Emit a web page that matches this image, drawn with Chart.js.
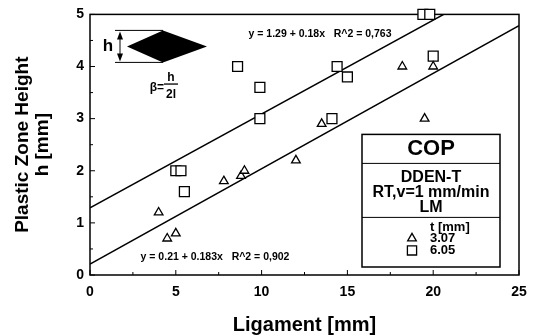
<!DOCTYPE html>
<html>
<head>
  <title>Plastic Zone Height vs Ligament</title>
  <script src="https://cdn.jsdelivr.net/npm/chart.js"></script>
  <style>
    body { margin: 0; background: white; }
  </style>
</head>
<body>
  <canvas id="plot" width="536" height="336"></canvas>

  <script>
    // t = 3.07 mm (triangles)
    const thinX = [4.0, 4.5, 5.0, 7.8, 8.8, 9.0, 12.0, 13.5, 18.2, 19.5, 20.0];
    const thinY = [1.2, 0.7, 0.8, 1.8, 1.9, 2.0, 2.2, 2.9, 4.0, 3.0, 4.0];
    // t = 6.05 mm (squares)
    const thickX = [5.0, 5.3, 5.5, 8.6, 9.9, 9.9, 14.1, 14.4, 15.0, 19.4, 19.8, 20.0];
    const thickY = [2.0, 2.0, 1.6, 4.0, 3.6, 3.0, 3.0, 4.0, 3.8, 5.0, 5.0, 4.2];
    // fitted lines, end points
    const fitX = [0, 25];
    const thickFitY = [1.29, 5.79];
    const thinFitY = [0.21, 4.785];
    const xTicks = [0, 5, 10, 15, 20, 25];
    const yTicks = [0, 1, 2, 3, 4, 5];

    const FONT = '"Liberation Sans", Arial, Helvetica, sans-serif';
    const pts = (xs, ys) => xs.map((x, i) => ({ x: x, y: ys[i] }));
    const mids = t => t.slice(1).map((v, i) => (v + t[i]) / 2);

    // frame, inward ticks and all the text drawn on the plot
    const decor = {
      id: 'decor',
      beforeDatasetsDraw(chart) {
        const ctx = chart.ctx, a = chart.chartArea;
        const xs = chart.scales.x, ys = chart.scales.y;
        ctx.save();
        ctx.strokeStyle = '#000';
        ctx.lineWidth = 1.5;
        ctx.strokeRect(a.left, a.top, a.right - a.left, a.bottom - a.top);
        ctx.lineWidth = 1;
        ctx.beginPath();
        xTicks.forEach(v => { const p = xs.getPixelForValue(v); ctx.moveTo(p, a.bottom); ctx.lineTo(p, a.bottom - 5); });
        mids(xTicks).forEach(v => { const p = xs.getPixelForValue(v); ctx.moveTo(p, a.bottom); ctx.lineTo(p, a.bottom - 3); });
        yTicks.forEach(v => { const p = ys.getPixelForValue(v); ctx.moveTo(a.left, p); ctx.lineTo(a.left + 5, p); });
        mids(yTicks).forEach(v => { const p = ys.getPixelForValue(v); ctx.moveTo(a.left, p); ctx.lineTo(a.left + 3, p); });
        ctx.stroke();
        ctx.restore();
      },
      afterDraw(chart) {
        const ctx = chart.ctx, a = chart.chartArea;
        const L = a.left, T = a.top, R = a.right, B = a.bottom;
        ctx.save();
        ctx.fillStyle = '#000';
        ctx.strokeStyle = '#000';
        ctx.textBaseline = 'middle';

        // equations
        ctx.textAlign = 'center';
        ctx.font = 'bold 10.5px ' + FONT;
        ctx.fillText('y = 1.29 + 0.18x   R^2 = 0,763', L + 230, T + 20);
        ctx.fillText('y = 0.21 + 0.183x   R^2 = 0,902', L + 125, B - 18);

        // inset sketch of the plastic zone
        ctx.beginPath();
        ctx.moveTo(L + 37, T + 32);
        ctx.lineTo(L + 73, T + 16);
        ctx.lineTo(L + 117, T + 32);
        ctx.lineTo(L + 73, T + 48);
        ctx.closePath();
        ctx.fill();
        ctx.lineWidth = 1;
        ctx.beginPath();
        ctx.moveTo(L + 25, T + 16); ctx.lineTo(L + 73, T + 16);
        ctx.moveTo(L + 25, T + 48); ctx.lineTo(L + 73, T + 48);
        ctx.moveTo(L + 30, T + 20); ctx.lineTo(L + 30, T + 44);
        ctx.stroke();
        ctx.beginPath();
        ctx.moveTo(L + 30, T + 17); ctx.lineTo(L + 27, T + 25); ctx.lineTo(L + 33, T + 25); ctx.closePath();
        ctx.moveTo(L + 30, T + 47); ctx.lineTo(L + 27, T + 39); ctx.lineTo(L + 33, T + 39); ctx.closePath();
        ctx.fill();
        ctx.font = 'bold 17px ' + FONT;
        ctx.fillText('h', L + 18, T + 32);
        ctx.font = 'bold 12px ' + FONT;
        ctx.textAlign = 'right';
        ctx.fillText('\u03b2=', L + 74, T + 73);
        ctx.textAlign = 'center';
        ctx.fillText('h', L + 81, T + 63);
        ctx.fillText('2l', L + 81, T + 80);
        ctx.fillRect(L + 74, T + 69, 14, 1.3);

        // legend box
        const bl = R - 157, br = R - 19, bt = T + 120, bb = B - 8, bc = (bl + br) / 2;
        ctx.fillStyle = '#fff';
        ctx.fillRect(bl, bt, br - bl, bb - bt);
        ctx.fillStyle = '#000';
        ctx.lineWidth = 1.5;
        ctx.strokeRect(bl, bt, br - bl, bb - bt);
        ctx.lineWidth = 1;
        ctx.beginPath();
        ctx.moveTo(bl, bt + 29); ctx.lineTo(br, bt + 29);
        ctx.moveTo(bl, bt + 83); ctx.lineTo(br, bt + 83);
        ctx.stroke();
        ctx.font = 'bold 22px ' + FONT;
        ctx.fillText('COP', bc, bt + 15);
        ctx.font = 'bold 16px ' + FONT;
        ctx.fillText('DDEN-T', bc, bt + 43);
        ctx.fillText('RT,v=1 mm/min', bc, bt + 58);
        ctx.fillText('LM', bc, bt + 73);
        ctx.font = 'bold 13px ' + FONT;
        ctx.textAlign = 'left';
        ctx.fillText('t [mm]', bl + 68, bt + 93);
        ctx.fillText('3.07', bl + 68, bt + 104);
        ctx.fillText('6.05', bl + 68, bt + 116);
        // open legend markers
        ctx.fillStyle = '#fff';
        ctx.lineWidth = 1.3;
        const mark = { borderWidth: 1.3, rotation: 0 };
        Chart.helpers.drawPoint(ctx, Object.assign({ pointStyle: 'triangle', radius: 5 }, mark), bl + 50, bt + 104);
        Chart.helpers.drawPoint(ctx, Object.assign({ pointStyle: 'rect', radius: 6.5 }, mark), bl + 50, bt + 116);
        ctx.restore();
      }
    };

    new Chart(document.getElementById('plot').getContext('2d'), {
      type: 'scatter',
      data: {
        datasets: [
          {
            label: '3.07',
            data: pts(thinX, thinY),
            pointStyle: 'triangle',
            pointRadius: 5,
            borderColor: '#000',
            backgroundColor: '#fff',
            borderWidth: 1.3,
            clip: false
          },
          {
            label: '6.05',
            data: pts(thickX, thickY),
            pointStyle: 'rect',
            pointRadius: 7,
            borderColor: '#000',
            backgroundColor: '#fff',
            borderWidth: 1.3,
            clip: false
          },
          {
            type: 'line',
            label: 'fit 6.05',
            data: pts(fitX, thickFitY),
            borderColor: '#000',
            borderWidth: 1.5,
            pointRadius: 0
          },
          {
            type: 'line',
            label: 'fit 3.07',
            data: pts(fitX, thinFitY),
            borderColor: '#000',
            borderWidth: 1.5,
            pointRadius: 0
          }
        ]
      },
      options: {
        responsive: false,
        animation: false,
        layout: { padding: { top: 14, right: 17, left: 0, bottom: 0 } },
        plugins: { legend: { display: false }, tooltip: { enabled: false } },
        scales: {
          x: {
            type: 'linear',
            min: 0,
            max: 25,
            afterBuildTicks: s => { s.ticks = xTicks.map(v => ({ value: v })); },
            afterFit: s => { s.height = 61; },
            grid: { display: false, drawTicks: false },
            border: { display: false },
            ticks: { color: '#000', padding: 9, font: { family: FONT, size: 14, weight: 'bold' } },
            title: {
              display: true,
              text: 'Ligament [mm]',
              color: '#000',
              padding: { top: 0, bottom: 1 },
              font: { family: FONT, size: 20, weight: 'bold', lineHeight: 1.0 }
            }
          },
          y: {
            type: 'linear',
            min: 0,
            max: 5,
            afterBuildTicks: s => { s.ticks = yTicks.map(v => ({ value: v })); },
            afterFit: s => { s.width = 90; },
            grid: { display: false, drawTicks: false },
            border: { display: false },
            ticks: { color: '#000', padding: 6, font: { family: FONT, size: 14, weight: 'bold' } },
            title: {
              display: true,
              text: ['Plastic Zone Height', 'h [mm]'],
              color: '#000',
              padding: { top: 13, bottom: 0 },
              font: { family: FONT, size: 19, weight: 'bold', lineHeight: 1.05 }
            }
          }
        }
      },
      plugins: [decor]
    });
  </script>
</body>
</html>
